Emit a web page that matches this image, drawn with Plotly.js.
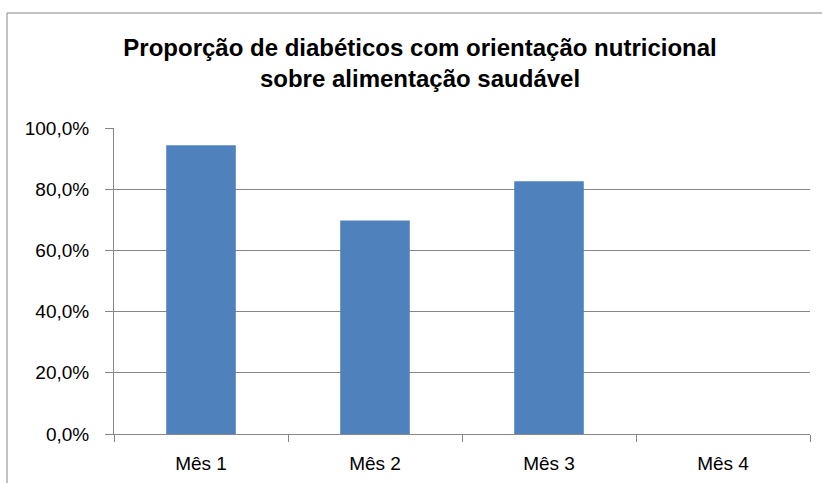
<!DOCTYPE html>
<html><head><meta charset="utf-8">
<script src="https://cdn.plot.ly/plotly-3.0.1.min.js"></script>
<style>body{margin:0;background:#fff}#c{width:822px;height:483px}</style>
</head><body><div id="c"></div>
<script>
const categories = ["Mês 1", "Mês 2", "Mês 3", "Mês 4"];
const values = [0.944, 0.698, 0.826, 0];
const yTickVals = [0, 0.2, 0.4, 0.6, 0.8, 1.0];
const yTickText = ["0,0%", "20,0%", "40,0%", "60,0%", "80,0%", "100,0%"];
const titleText = "Proporção de diabéticos com orientação nutricional<br>sobre alimentação saudável";

const W = 822, H = 483, L = 114, R = 12, T = 128, B = 49;
const pw = W - L - R, ph = H - T - B;
const px = v => (v - L) / pw, py = v => (H - B - v) / ph;

Plotly.newPlot("c", [{
  type: "bar", x: categories, y: values,
  marker: {color: "#4f81bd", line: {width: 0}},
  hoverinfo: "none"
}], {
  width: W, height: H,
  margin: {l: L, r: R, t: T, b: B},
  paper_bgcolor: "#fff", plot_bgcolor: "#fff",
  bargap: 0.6,
  showlegend: false,
  font: {family: "Liberation Sans, Arial, sans-serif", color: "#000"},
  title: {text: titleText, x: 0.511, xanchor: "center", y: 0.885, yanchor: "top", yref: "container",
          font: {family: "Liberation Sans Narrow, Arial Narrow, sans-serif", size: 24, color: "#000", weight: "bold"}},
  xaxis: {
    showgrid: false, showline: true, linecolor: "#868686", linewidth: 1,
    ticks: "outside", tickson: "boundaries", ticklen: 7, tickcolor: "#868686",
    tickfont: {size: 19}, ticklabelstandoff: 12,
    fixedrange: true
  },
  yaxis: {
    range: [0, 1.0], tickvals: yTickVals, ticktext: yTickText,
    showgrid: true, gridcolor: "#868686", gridwidth: 1,
    showline: true, linecolor: "#868686", linewidth: 1,
    ticks: "outside", ticklen: 8, tickcolor: "#868686",
    tickfont: {size: 19}, ticklabelstandoff: 12,
    zeroline: false, fixedrange: true
  },
  shapes: [{
    type: "rect", xref: "paper", yref: "paper",
    x0: px(7), x1: px(835), y0: py(495), y1: py(13),
    line: {color: "#868686", width: 1}, fillcolor: "rgba(0,0,0,0)", layer: "below"
  }]
}, {displayModeBar: false, staticPlot: true});
</script></body></html>
